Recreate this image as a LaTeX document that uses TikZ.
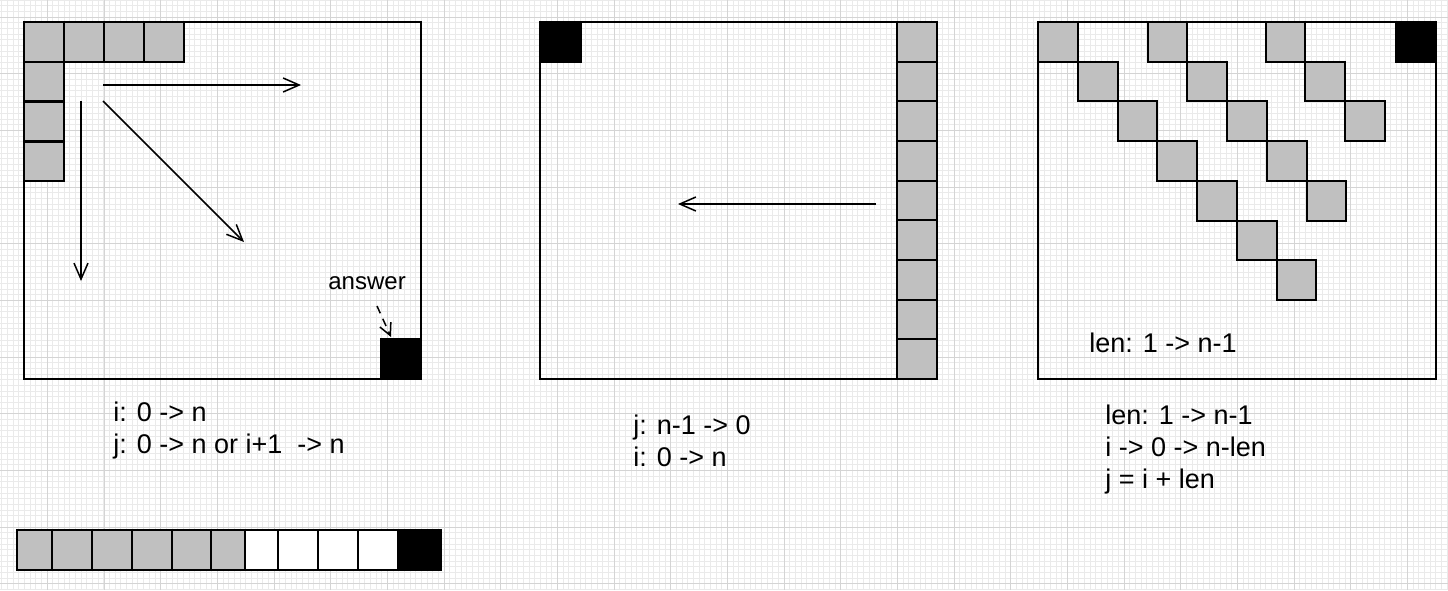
\documentclass[tikz,border=0pt]{standalone}
\usepackage{fontspec}
\setmainfont{Liberation Sans}
\usetikzlibrary{arrows.meta}
\definecolor{cellgray}{RGB}{192,192,192}
\definecolor{minorgrid}{RGB}{234,234,234}
\definecolor{majorgrid}{RGB}{212,212,212}
\begin{document}
\begin{tikzpicture}[x=0.5pt,y=-0.5pt,
  frame/.style={draw=black,line width=1pt},
  gcell/.style={draw=black,fill=cellgray,line width=1pt},
  bcell/.style={draw=black,fill=black,line width=1pt},
  wcell/.style={draw=black,fill=white,line width=1pt},
  arrowline/.style={line width=0.75pt,-{Straight Barb[length=8pt,width=7pt,line width=0.75pt]}},
  lbl/.style={font=\fontsize{13.5}{16}\selectfont,inner sep=0pt,align=left,anchor=base west},
  smalllbl/.style={font=\fontsize{12}{16}\selectfont,inner sep=0pt,anchor=base west}]
% background and grid
\useasboundingbox (0,0) rectangle (1448,590);
\fill[white] (0,0) rectangle (1448,590);
\foreach \i in {0,...,255}{\draw[minorgrid,line width=0.5pt] (1.99+5.667*\i,0) -- ++(0,590);}
\foreach \i in {0,...,104}{\draw[minorgrid,line width=0.5pt] (0,0.0+5.667*\i) -- ++(1448,0);}
\foreach \i in {0,...,24}{\draw[majorgrid,line width=0.5pt] (47.33+56.67*\i,0) -- ++(0,590);}
\foreach \i in {0,...,10}{\draw[majorgrid,line width=0.5pt] (0,17+56.67*\i) -- ++(1448,0);}

% ---------- panel 1 ----------
\draw[frame] (24,22) rectangle (421,379);
\foreach \x in {24,64,104,144}{\draw[gcell] (\x,22) rectangle ++(39.7,39.7);}
\foreach \y in {62,102,142}{\draw[gcell] (24,\y) rectangle ++(39.7,39.3);}
\draw[bcell] (381.3,339.3) rectangle (421,379);
\coordinate (h0) at (103,85);
\coordinate (h1) at (301,85);
\coordinate (v0) at (81,101);
\coordinate (v1) at (81,281);
\coordinate (d0) at (103,101);
\coordinate (d1) at (244,242);
\draw[arrowline] (h0) -- (h1);
\draw[arrowline] (v0) -- (v1);
\draw[arrowline] (d0) -- (d1);
\node[smalllbl] (ans) at (328,289) {answer};
\coordinate (a0) at (377,306);
\coordinate (a1) at (391,337);
\draw[line width=0.75pt,dash pattern=on 4pt off 3pt,-{Straight Barb[length=6pt,width=6pt,line width=0.75pt]}] (a0) -- (a1);
\node[lbl] (t1) at (113,453) {i: 0 -> n\\j: 0 -> n or i+1\ \ -> n};

% ---------- panel 2 ----------
\draw[frame] (540,22) rectangle (937,379);
\draw[bcell] (540,22) rectangle (580.5,62);
\foreach \k in {0,...,8}{\draw[gcell] (897,22+39.67*\k) rectangle ++(40,39.67);}
\coordinate (l0) at (876,204);
\coordinate (l1) at (678,204);
\draw[arrowline] (l0) -- (l1);
\node[lbl] (t2) at (633,466) {j: n-1 -> 0\\i: 0 -> n};

% ---------- panel 3 ----------
\draw[frame] (1038.3,22) rectangle (1436,379);
\foreach \k in {0,...,6}{\draw[gcell] (1038.3+39.7*\k,22+39.7*\k) rectangle ++(39.7,39.7);}
\foreach \k in {0,...,4}{\draw[gcell] (1147.7+39.7*\k,22+39.7*\k) rectangle ++(39.7,39.7);}
\foreach \k in {0,...,2}{\draw[gcell] (1265.7+39.7*\k,22+39.7*\k) rectangle ++(39.7,39.7);}
\draw[bcell] (1396.3,22) rectangle (1436,61.7);
\node[lbl] (t3a) at (1089,352) {len: 1 -> n-1};
\node[lbl] (t3) at (1105,488) {len: 1 -> n-1\\i -> 0 -> n-len\\j = i + len};

% ---------- bottom strip ----------
\foreach \a/\b in {17.3/51.7,51.7/91.7,91.7/131.7,131.7/171.7,171.7/211,211/245}{\draw[gcell] (\a,530) rectangle (\b,570);}
\foreach \a/\b in {245/278.3,278.3/318.3,318.3/358.3,358.3/397.7}{\draw[wcell] (\a,530) rectangle (\b,570);}
\draw[bcell] (397.7,530) rectangle (440.7,570);
\end{tikzpicture}
\end{document}
